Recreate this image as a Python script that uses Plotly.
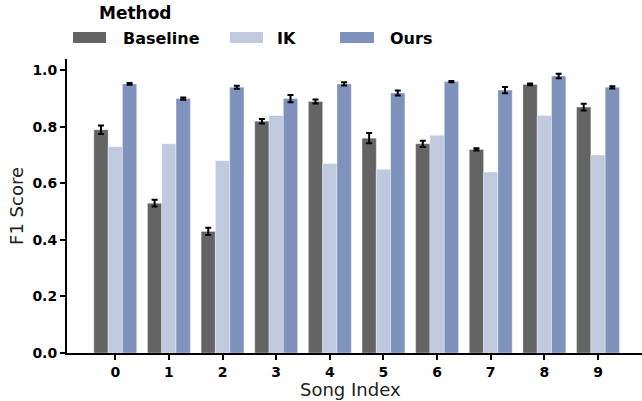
import plotly.graph_objects as go

songs = [0, 1, 2, 3, 4, 5, 6, 7, 8, 9]
baseline = [0.79, 0.53, 0.43, 0.82, 0.89, 0.76, 0.74, 0.72, 0.95, 0.87]
baseline_err = [0.015, 0.012, 0.013, 0.008, 0.007, 0.018, 0.011, 0.004, 0.003, 0.012]
ik = [0.73, 0.74, 0.68, 0.84, 0.67, 0.65, 0.77, 0.64, 0.84, 0.70]
ours = [0.952, 0.90, 0.94, 0.90, 0.952, 0.92, 0.96, 0.93, 0.98, 0.94]
ours_err = [0.003, 0.004, 0.005, 0.013, 0.006, 0.009, 0.002, 0.011, 0.008, 0.004]

series_names = ["Baseline", "IK", "Ours"]
colors = ["#646464", "#c0cadf", "#7f92bc"]

W, H = 642, 401
L, R, T, B = 67, 0, 59, 48
pw, ph = W - L - R, H - T - B

def px_x(px):
    return (px - L) / pw

def px_y(py):
    return (H - B - py) / ph

fig = go.Figure()
err_style = dict(type="data", color="black", thickness=2, width=3)
fig.add_trace(go.Bar(x=songs, y=baseline, name="Baseline", marker_color=colors[0],
                     marker_line=dict(color="rgba(255,255,255,0.35)", width=1),
                     error_y=dict(array=baseline_err, **err_style)))
fig.add_trace(go.Bar(x=songs, y=ik, name="IK", marker_color=colors[1],
                     marker_line=dict(color="rgba(255,255,255,0.35)", width=1)))
fig.add_trace(go.Bar(x=songs, y=ours, name="Ours", marker_color=colors[2],
                     marker_line=dict(color="rgba(255,255,255,0.35)", width=1),
                     error_y=dict(array=ours_err, **err_style)))

font_family = "DejaVu Sans"

# manual legend
sw_x = [(73, 106), (230, 263), (340, 374)]
txt_x = [121, 275, 388]
shapes = []
annotations = []
for (x0, x1), tx, name, col in zip(sw_x, txt_x, series_names, colors):
    shapes.append(dict(type="rect", xref="paper", yref="paper",
                       x0=px_x(x0), x1=px_x(x1), y0=px_y(43), y1=px_y(32),
                       fillcolor=col, line=dict(width=0)))
    annotations.append(dict(xref="paper", yref="paper", x=px_x(tx), y=px_y(38),
                            xanchor="left", yanchor="middle", showarrow=False,
                            text="<b>%s</b>" % name,
                            font=dict(family=font_family, size=16, color="black")))
annotations.append(dict(xref="paper", yref="paper", x=px_x(97), y=px_y(13),
                        xanchor="left", yanchor="middle", showarrow=False,
                        text="<b>Method</b>",
                        font=dict(family=font_family, size=17, color="black")))
# x-axis title
annotations.append(dict(xref="paper", yref="paper", x=px_x(350), y=px_y(389.5),
                        xanchor="center", yanchor="middle", showarrow=False,
                        text="Song Index",
                        font=dict(family=font_family, size=18, color="#222")))

fig.update_layout(
    width=W, height=H,
    margin=dict(l=L, r=R, t=T, b=B, pad=0, autoexpand=False),
    barmode="group", bargap=0.2, bargroupgap=0,
    plot_bgcolor="white", paper_bgcolor="white",
    showlegend=False,
    shapes=shapes, annotations=annotations,
    font=dict(family=font_family, color="black"),
    xaxis=dict(
        automargin=False,
        range=[-0.9, 9.82], tickmode="array", tickvals=songs,
        ticktext=["<b>%d</b>" % s for s in songs],
        tickfont=dict(size=14, family=font_family, color="black"),
        showline=True, linecolor="black", linewidth=2,
        ticks="outside", ticklen=5, tickwidth=2, tickcolor="black",
        showgrid=False, zeroline=False,
    ),
    yaxis=dict(
        automargin=False,
        range=[0, 1.04], tickmode="array", tickvals=[0, 0.2, 0.4, 0.6, 0.8, 1.0],
        ticktext=["<b>0.0</b>", "<b>0.2</b>", "<b>0.4</b>", "<b>0.6</b>", "<b>0.8</b>", "<b>1.0</b>"],
        tickfont=dict(size=14, family=font_family, color="black"),
        showline=True, linecolor="black", linewidth=2,
        ticks="outside", ticklen=5, tickwidth=2, tickcolor="black",
        showgrid=False, zeroline=False,
        title=dict(text="F1 Score", font=dict(size=18, family=font_family, color="#222"), standoff=4),
    ),
)

fig.write_html("out.html", config={"displayModeBar": False},
               post_script="document.body.style.margin='0';")
